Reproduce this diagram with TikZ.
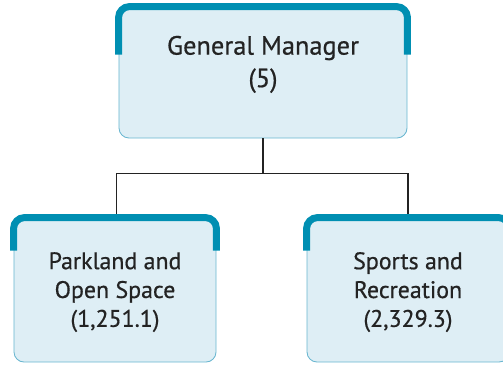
\documentclass[tikz,border=0pt]{standalone}
\usepackage{fontspec}
\setmainfont{PT Sans}
\newfontfamily\unitfont{PT Sans}[FakeBold=0.6]
\usetikzlibrary{positioning,calc}
\definecolor{ink}{RGB}{35,35,35}
\definecolor{panel}{RGB}{222,238,245}
\definecolor{tab}{RGB}{0,143,178}
\definecolor{rim}{RGB}{105,182,208}
\tikzset{
  every picture/.style={x=0.2mm, y=-0.2mm, line width=0.5pt},
  unit/.style={draw=rim, fill=panel, rounded corners=2mm, align=center, text=ink, inner sep=0pt},
  topunit/.style={unit, minimum width=57.6mm, minimum height=26.2mm, font=\unitfont\fontsize{15}{18.5}\selectfont},
  subunit/.style={unit, minimum width=40.4mm, minimum height=28.8mm, font=\unitfont\fontsize{13.6}{16.4}\selectfont},
  tabline/.style={draw=tab, line width=1.4mm, rounded corners=2.2mm},
  link/.style={draw=ink, line width=0.6pt},
}

\begin{document}
\begin{tikzpicture}
  \useasboundingbox (0,0) rectangle (503,364);
  \clip (0,0) rectangle (503,364);
  % org chart: manager on top, two units below
  \node[topunit, text depth=4.4mm] (gm) at (263,72.5) {General Manager\\(5)};
  \node[subunit, text depth=0.2mm] (parks) at (115,290) {Parkland and\\Open Space\\(1,251.1)};
  \node[subunit, text depth=0.2mm] (sports) at (408,290) {Sports and\\Recreation\\(2,329.3)};
  % tree lines
  \coordinate (fork) at ($(gm.south)+(0,35)$);
  \draw[link] (gm.south) -- (fork);
  \draw[link] (fork) -| ([xshift=0.3mm]parks.north);
  \draw[link] (fork) -| (sports.north);
  % thick tabs over the upper edges
  \foreach \u/\d in {gm/48, parks/33, sports/33}
    \draw[tabline] ($(\u.north west)+(0,\d)$) -- (\u.north west) -- (\u.north east) -- ($(\u.north east)+(0,\d)$);
\end{tikzpicture}
\end{document}
